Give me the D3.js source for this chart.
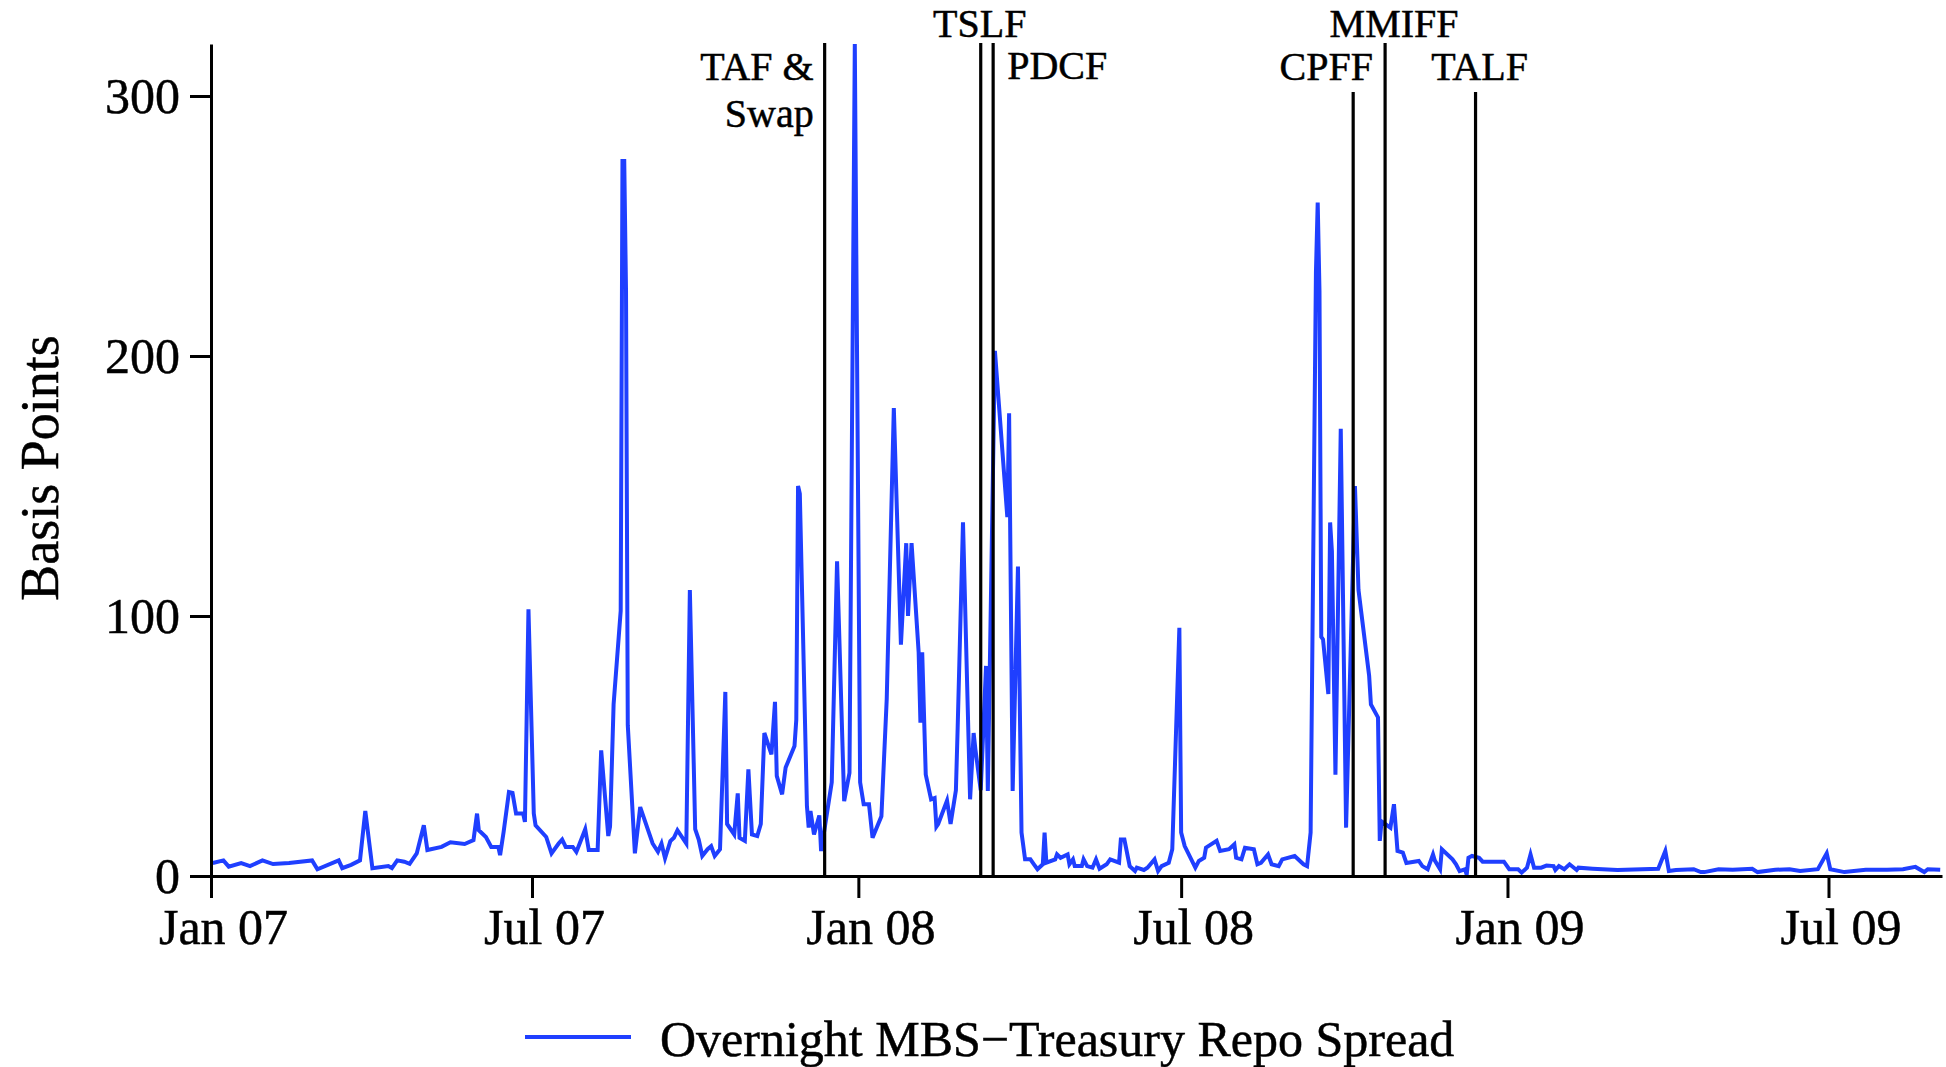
<!DOCTYPE html>
<html lang="en">
<head>
<meta charset="UTF-8">
<title>Overnight MBS-Treasury Repo Spread</title>
<script src="https://d3js.org/d3.v7.min.js"></script>
<style>
  body { margin: 0; background: #fff; }
  text { font-family: "Liberation Serif", "Times New Roman", serif; fill: #000; stroke: #000; stroke-width: 0.5px; }
</style>
</head>
<body>
<div id="chart"></div>
<script>
// overnight MBS - treasury repo spread, basis points
var spreadDates = [
  "2007-01-02","2007-01-08","2007-01-11","2007-01-18","2007-01-23","2007-01-30","2007-02-05","2007-02-14","2007-02-27","2007-03-02",
  "2007-03-14","2007-03-16","2007-03-21","2007-03-26","2007-03-29","2007-04-02","2007-04-11","2007-04-13","2007-04-16","2007-04-20",
  "2007-04-23","2007-04-27","2007-05-01","2007-05-03","2007-05-11","2007-05-16","2007-05-24","2007-05-29","2007-05-31","2007-06-01",
  "2007-06-05","2007-06-08","2007-06-12","2007-06-13","2007-06-15","2007-06-18","2007-06-20","2007-06-22","2007-06-26","2007-06-27",
  "2007-06-29","2007-07-02","2007-07-03","2007-07-09","2007-07-12","2007-07-16","2007-07-18","2007-07-20","2007-07-24","2007-07-26",
  "2007-07-27","2007-07-31","2007-08-02","2007-08-07","2007-08-09","2007-08-13","2007-08-14","2007-08-16","2007-08-20","2007-08-21",
  "2007-08-22","2007-08-23","2007-08-24","2007-08-28","2007-08-31","2007-09-07","2007-09-10","2007-09-12","2007-09-14","2007-09-17",
  "2007-09-19","2007-09-21","2007-09-26","2007-09-28","2007-10-01","2007-10-03","2007-10-05","2007-10-08","2007-10-10","2007-10-12",
  "2007-10-15","2007-10-18","2007-10-19","2007-10-23","2007-10-25","2007-10-26","2007-10-29","2007-10-31","2007-11-02","2007-11-05",
  "2007-11-07","2007-11-09","2007-11-13","2007-11-15","2007-11-16","2007-11-19","2007-11-21","2007-11-26","2007-11-27","2007-11-28",
  "2007-11-29","2007-12-03","2007-12-04","2007-12-05","2007-12-07","2007-12-10","2007-12-11","2007-12-12","2007-12-17","2007-12-20",
  "2007-12-24","2007-12-27","2007-12-30","2008-01-02","2008-01-04","2008-01-07","2008-01-09","2008-01-14","2008-01-17","2008-01-21",
  "2008-01-25","2008-01-28","2008-01-29","2008-01-31","2008-02-04","2008-02-05","2008-02-06","2008-02-08","2008-02-11","2008-02-13",
  "2008-02-14","2008-02-15","2008-02-20","2008-02-22","2008-02-25","2008-02-26","2008-02-29","2008-03-04","2008-03-06","2008-03-07",
  "2008-03-10","2008-03-13","2008-03-14","2008-03-18","2008-03-25","2008-03-26","2008-03-28","2008-03-31","2008-04-02","2008-04-04",
  "2008-04-07","2008-04-09","2008-04-11","2008-04-14","2008-04-15","2008-04-16","2008-04-21","2008-04-22","2008-04-24","2008-04-28",
  "2008-04-29","2008-05-01","2008-05-02","2008-05-06","2008-05-07","2008-05-09","2008-05-12","2008-05-14","2008-05-16","2008-05-20",
  "2008-05-22","2008-05-27","2008-05-28","2008-05-30","2008-06-02","2008-06-05","2008-06-06","2008-06-10","2008-06-12","2008-06-16",
  "2008-06-18","2008-06-20","2008-06-24","2008-06-26","2008-06-30","2008-07-01","2008-07-03","2008-07-09","2008-07-11","2008-07-14",
  "2008-07-15","2008-07-21","2008-07-23","2008-07-28","2008-07-31","2008-08-01","2008-08-04","2008-08-06","2008-08-11","2008-08-13",
  "2008-08-15","2008-08-19","2008-08-21","2008-08-25","2008-08-27","2008-09-03","2008-09-08","2008-09-10","2008-09-12","2008-09-15",
  "2008-09-16","2008-09-17","2008-09-18","2008-09-19","2008-09-22","2008-09-23","2008-09-24","2008-09-26","2008-09-29","2008-10-02",
  "2008-10-07","2008-10-09","2008-10-15","2008-10-16","2008-10-20","2008-10-21","2008-10-22","2008-10-27","2008-10-29","2008-10-31",
  "2008-11-03","2008-11-05","2008-11-12","2008-11-14","2008-11-17","2008-11-19","2008-11-20","2008-11-21","2008-11-24","2008-11-25",
  "2008-12-01","2008-12-03","2008-12-05","2008-12-08","2008-12-09","2008-12-10","2008-12-12","2008-12-16","2008-12-18","2008-12-30",
  "2009-01-02","2009-01-07","2009-01-09","2009-01-12","2009-01-14","2009-01-16","2009-01-20","2009-01-23","2009-01-27","2009-01-28",
  "2009-01-30","2009-02-02","2009-02-05","2009-02-09","2009-02-10","2009-02-18","2009-03-04","2009-03-27","2009-03-31","2009-04-02",
  "2009-04-06","2009-04-16","2009-04-20","2009-04-22","2009-04-30","2009-05-08","2009-05-19","2009-05-22","2009-06-01","2009-06-09",
  "2009-06-15","2009-06-25","2009-06-30","2009-07-02","2009-07-10","2009-07-22","2009-08-03","2009-08-12","2009-08-19","2009-08-24",
  "2009-08-26","2009-09-02"
];
var spreadValues = [
  5, 6, 3.6, 5, 3.8, 6, 4.6, 5, 6, 2.6,
  6, 3, 4.3, 6, 25, 3, 3.8, 3, 6, 5.5,
  4.7, 8.7, 19.5, 10, 11.2, 13, 12.3, 13.8, 24, 17.6,
  15, 11.2, 11.2, 8, 17, 32.3, 32, 24, 24, 20.8,
  102.6, 24, 19.5, 15, 8.7, 12.5, 14, 11.2, 11.2, 9.3,
  11, 18, 10, 10, 48.3, 15.4, 19, 66, 102, 275,
  275, 225, 58, 8.7, 26.5, 12.5, 9.3, 12.5, 6.8, 13.4,
  14.7, 17.6, 12.5, 110, 18, 14, 7.7, 10.3, 11.5, 7.7,
  10.3, 70.8, 20, 16, 31.8, 14.7, 13.5, 41, 16, 15.4,
  20, 55, 46.8, 67, 38.5, 31.4, 41.7, 50, 60, 150,
  147, 27, 18.6, 25, 16, 23.3, 9.6, 14, 36, 121,
  28.8, 39.7, 320, 36, 27.6, 27.6, 14.7, 23, 68, 180,
  89, 128, 100, 128, 86, 59, 86, 39, 29.5, 30,
  19, 20, 29, 20, 33, 57, 136, 29.5, 55, 48.7,
  33, 80.8, 32.7, 202, 138, 178, 32.7, 119, 16.7, 6.4,
  6.4, 4.5, 2.6, 4.5, 16.7, 5.1, 6.4, 8.3, 7, 8.3,
  4.5, 6.4, 3.8, 3.8, 6.4, 3.8, 3.2, 6.4, 2.8, 4.5,
  6.4, 5.1, 14, 14, 3.8, 1.9, 3.2, 2.3, 3.2, 6.4,
  1.9, 3.8, 5.1, 10.3, 95.5, 16.7, 11.5, 3.2, 5.8, 7,
  10.9, 13.5, 9.6, 10.3, 12.2, 7, 6.4, 10.9, 10.3, 4.5,
  5.1, 8.3, 4.5, 3.8, 6.4, 7.7, 4.5, 3.8, 16.7, 232,
  259, 225, 92, 91, 70, 136, 125, 39, 172, 18.6,
  150, 110, 77, 66, 61, 13.5, 21, 18.6, 27.6, 9.6,
  9, 5, 5.8, 3.8, 2.6, 6.4, 8.3, 6, 2.6, 10.3,
  6.4, 4.5, 1.9, 2.6, 0.5, 7, 7.7, 7, 5.5, 5.5,
  2.6, 2.6, 1.3, 3.2, 8.3, 3.2, 3.2, 4, 3.8, 2.3,
  3.8, 2.6, 4.5, 2.3, 3.2, 2.8, 2.3, 2.8, 9.6, 1.9,
  2.3, 2.6, 1.5, 1.5, 2.6, 2.4, 2.8, 1.5, 2.4, 2.6,
  1.9, 2.6, 8.7, 2.6, 1.5, 2.4, 2.4, 2.6, 3.5, 1.5,
  2.6, 2.4
];

// Fed facility announcements
var eventDates = ["2007-12-13", "2008-03-10", "2008-03-17", "2008-10-06", "2008-10-24", "2008-12-14"];
var eventLabels = [["TAF &", "Swap"], ["TSLF"], ["PDCF"], ["CPFF"], ["MMIFF"], ["TALF"]];

var xTickDates = ["2007-01-01", "2007-07-01", "2008-01-01", "2008-07-01", "2009-01-01", "2009-07-01"];
var yTickValues = [0, 100, 200, 300];
var seriesName = "Overnight MBS\u2212Treasury Repo Spread";

// label placement (pixels)
var eventLayout = [
  { anchor: "end",    dx: -11, y: 80, lineTop: 43 },
  { anchor: "middle", dx: -1,  y: 37, lineTop: 43 },
  { anchor: "start",  dx: 14,  y: 79, lineTop: 43 },
  { anchor: "middle", dx: -27, y: 80, lineTop: 92 },
  { anchor: "middle", dx: 9,   y: 37, lineTop: 43 },
  { anchor: "middle", dx: 4,   y: 80, lineTop: 92 }
];

var w = 1946, h = 1067;
var plotLeft = 211, plotRight = 1942, plotTop = 44, plotBottom = 876;
var blue = "#1f3fff";

var parse = d3.timeParse("%Y-%m-%d");
var data = spreadDates.map(function(d, i) {
  return { date: parse(d), value: spreadValues[i] };
});

var svg = d3.select("#chart").append("svg")
  .attr("width", w)
  .attr("height", h);

var x = d3.scaleTime()
  .domain([parse("2007-01-01"), parse("2009-09-03")])
  .range([plotLeft, plotRight]);

var y = d3.scaleLinear()
  .domain([0, 320])
  .range([plotBottom, plotTop]);

svg.append("clipPath").attr("id", "plot")
  .append("rect")
  .attr("x", plotLeft).attr("y", plotTop - 2)
  .attr("width", plotRight - plotLeft).attr("height", plotBottom - plotTop + 4);

// series
var line = d3.line()
  .x(function(d) { return x(d.date); })
  .y(function(d) { return y(d.value); });

svg.append("path")
  .datum(data)
  .attr("clip-path", "url(#plot)")
  .attr("fill", "none")
  .attr("stroke", blue)
  .attr("stroke-width", 4)
  .attr("stroke-linejoin", "miter")
  .attr("d", line);

// axes
var xAxis = d3.axisBottom(x)
  .tickValues(xTickDates.map(parse))
  .tickFormat(d3.timeFormat("%b %y"))
  .tickSize(22)
  .tickSizeOuter(0)
  .tickPadding(10);

var yAxis = d3.axisLeft(y)
  .tickValues(yTickValues)
  .tickSize(21)
  .tickSizeOuter(0)
  .tickPadding(10);

var gx = svg.append("g")
  .attr("transform", "translate(0," + plotBottom + ")")
  .call(xAxis);

var gy = svg.append("g")
  .attr("transform", "translate(" + plotLeft + ",0)")
  .call(yAxis);

[gx, gy].forEach(function(g) {
  g.attr("font-family", null).attr("font-size", null);
  g.select(".domain").attr("stroke", "#000").attr("stroke-width", 3);
  g.selectAll(".tick line").attr("stroke", "#000").attr("stroke-width", 3);
  g.selectAll(".tick text").style("font-size", "50px");
});
gx.selectAll(".tick text").attr("dx", 12);

svg.append("text")
  .attr("transform", "translate(58,468) rotate(-90)")
  .attr("text-anchor", "middle")
  .style("font-size", "54px")
  .text("Basis Points");

// event lines and labels
var events = svg.selectAll(".event")
  .data(eventDates)
  .enter()
  .append("g")
  .attr("class", "event");

events.append("line")
  .attr("x1", function(d) { return x(parse(d)); })
  .attr("x2", function(d) { return x(parse(d)); })
  .attr("y1", function(d, i) { return eventLayout[i].lineTop; })
  .attr("y2", plotBottom)
  .attr("stroke", "#000")
  .attr("stroke-width", 3.2);

events.each(function(d, i) {
  var lay = eventLayout[i];
  var t = d3.select(this).append("text")
    .attr("text-anchor", lay.anchor)
    .style("font-size", "40px");
  eventLabels[i].forEach(function(s, k) {
    t.append("tspan")
      .attr("x", x(parse(d)) + lay.dx)
      .attr("y", lay.y + k * 47)
      .text(s);
  });
});

// legend
svg.append("line")
  .attr("x1", 525).attr("x2", 631)
  .attr("y1", 1037).attr("y2", 1037)
  .attr("stroke", blue)
  .attr("stroke-width", 4);

svg.append("text")
  .attr("x", 660)
  .attr("y", 1056)
  .style("font-size", "50px")
  .text(seriesName);
</script>
</body>
</html>
